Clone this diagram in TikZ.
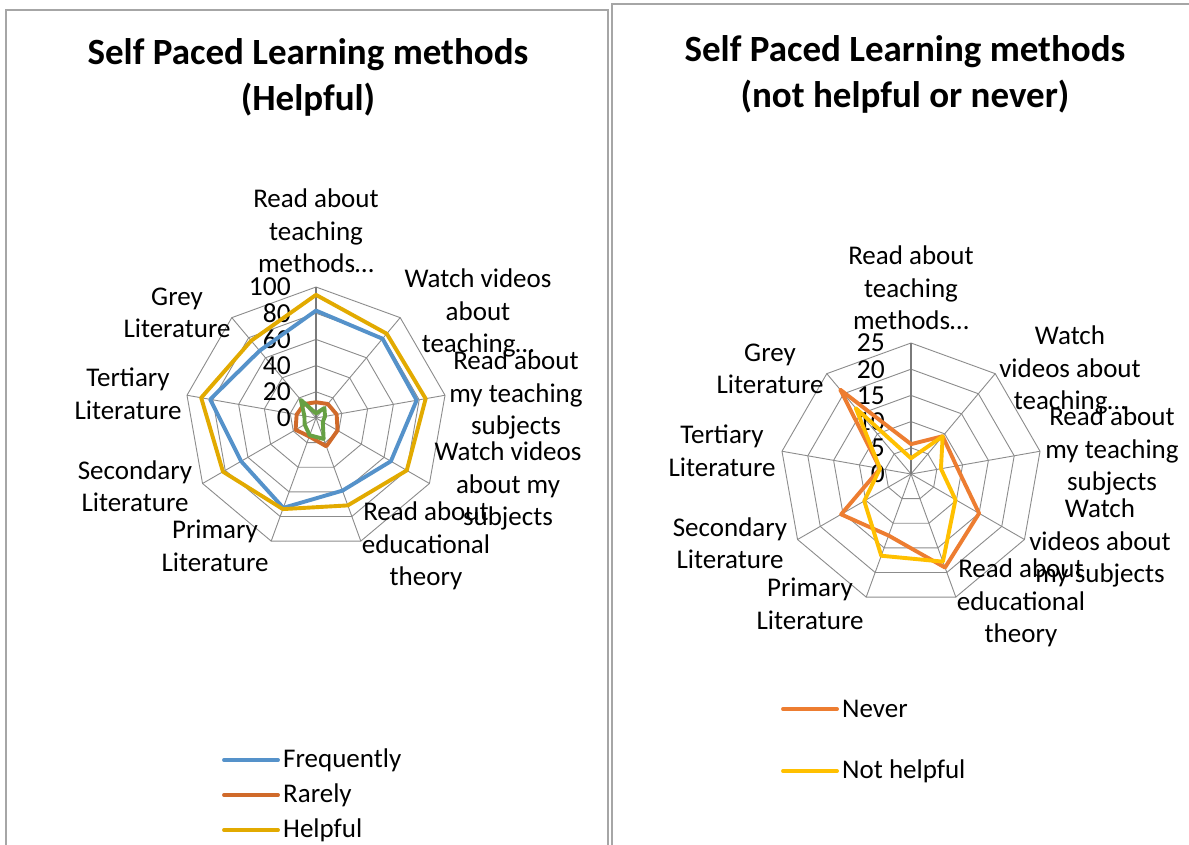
\documentclass[tikz,border=0pt]{standalone}
\usepackage{fontspec}
\setmainfont{Carlito}
\definecolor{gridgray}{HTML}{8C8C8C}
\definecolor{axisgray}{HTML}{7A7A7A}
\definecolor{framegray}{HTML}{A6A6A6}
\definecolor{cfreq}{HTML}{5592CA}
\definecolor{crare}{HTML}{D06A2A}
\definecolor{chelp}{HTML}{E2AA00}
\definecolor{cgreen}{HTML}{66A043}
\definecolor{cnever}{HTML}{ED7D31}
\definecolor{cnoth}{HTML}{FFC000}
\begin{document}
\begin{tikzpicture}[x=1pt,y=1pt,
  grid/.style={draw=gridgray, line width=0.9pt},
  axisline/.style={draw=axisgray, line width=1.2pt},
  series/.style={line width=3.9pt, line join=round},
  lbl/.style={font=\fontsize{27}{32.5}\selectfont, align=center, inner sep=0pt},
  tick/.style={font=\fontsize{27.5}{32}\selectfont, anchor=east, inner sep=0pt},
  ttl/.style={font=\bfseries\fontsize{37}{46}\selectfont, align=center, inner sep=0pt},
  frm/.style={draw=framegray, line width=1.6pt},
  leg/.style={font=\fontsize{27}{32}\selectfont, anchor=west, inner sep=0pt}]
\useasboundingbox (0,-845) rectangle (1189,0);
\fill[white] (0,-845) rectangle (1189,0);
% frames
\draw[frm] (6,-845) -- (6,-10) -- (608,-10) -- (608,-845);
\draw[frm] (612,-845) -- (612,-4) -- (1189,-4);
% ---------------- left chart ----------------
\node[ttl] (tl) at (308,-77) {Self Paced Learning methods\\(Helpful)};
\begin{scope}[shift={(316,-418)}]
  \foreach \k in {1,...,5}{
    \draw[grid] (90:\k*26.2) \foreach \i in {1,...,8}{ -- (90-40*\i:\k*26.2)} -- cycle;
  }
  \foreach \i in {1,...,8}{ \draw[grid] (0,0) -- (90-40*\i:131); }
  \coordinate (lc) at (0,0);
  \coordinate (ltop) at (0,131);
  \draw[axisline] (lc) -- (ltop);
  \foreach \v [count=\k from 0] in {0,20,40,60,80,100}{
    \node[tick] (lt\k) at (-25,\k*26.2) {\v};
  }
  \def\s{1.31}
  \draw[series,cfreq] (90:82*\s) -- (50:79*\s) -- (10:78*\s) -- (-30:66*\s) -- (-70:59*\s) -- (-110:73*\s) -- (-150:66*\s) -- (170:82*\s) -- (130:67*\s) -- cycle;
  \draw[series,crare] (90:12*\s) -- (50:14*\s) -- (10:16*\s) -- (-30:19*\s) -- (-70:23*\s) -- (-110:15*\s) -- (-150:18*\s) -- (170:15*\s) -- (130:14*\s) -- cycle;
  \draw[series,chelp] (90:94*\s) -- (50:84*\s) -- (10:85*\s) -- (-30:80*\s) -- (-70:71*\s) -- (-110:74*\s) -- (-150:82*\s) -- (170:89*\s) -- (130:77*\s) -- cycle;
  \draw[series,cgreen] (90:3.5*\s) -- (50:10*\s) -- (10:7*\s) -- (-30:6*\s) -- (-70:17*\s) -- (-110:14*\s) -- (-150:10*\s) -- (170:9*\s) -- (130:18*\s) -- cycle;
\end{scope}
\node[lbl] (l1) at (316,-231) {Read about\\teaching\\methods…};
\node[lbl] (l2) at (478,-313) {Watch videos\\about\\teaching…};
\node[lbl] (l3) at (516,-395) {Read about\\my teaching\\subjects};
\node[lbl] (l4) at (508,-486) {Watch videos\\about my\\subjects};
\node[lbl] (l5) at (426,-546) {Read about\\educational\\theory};
\node[lbl] (l6) at (215,-546) {Primary\\Literature};
\node[lbl] (l7) at (135,-486) {Secondary\\Literature};
\node[lbl] (l8) at (128,-394) {Tertiary\\Literature};
\node[lbl] (l9) at (177,-313) {Grey\\Literature};
% legend left
\coordinate (lfa1) at (224,-760); \coordinate (lfb1) at (278,-760);
\coordinate (lfa2) at (224,-795); \coordinate (lfb2) at (278,-795);
\coordinate (lfa3) at (224,-830); \coordinate (lfb3) at (278,-830);
\draw[series,cfreq,line cap=round] (lfa1) -- (lfb1);
\draw[series,crare,line cap=round] (lfa2) -- (lfb2);
\draw[series,chelp,line cap=round] (lfa3) -- (lfb3);
\node[leg] (lg1) at (283,-760) {Frequently};
\node[leg] (lg2) at (283,-795) {Rarely};
\node[leg] (lg3) at (283,-830) {Helpful};
% ---------------- right chart ----------------
\node[ttl] (tr) at (905,-74) {Self Paced Learning methods\\(not helpful or never)};
\begin{scope}[shift={(911,-474)}]
  \foreach \k in {1,...,5}{
    \draw[grid] (90:\k*26.2) \foreach \i in {1,...,8}{ -- (90-40*\i:\k*26.2)} -- cycle;
  }
  \foreach \i in {1,...,8}{ \draw[grid] (0,0) -- (90-40*\i:131); }
  \coordinate (rc) at (0,0);
  \coordinate (rtop) at (0,131);
  \draw[axisline] (rc) -- (rtop);
  \foreach \v [count=\k from 0] in {0,5,10,15,20,25}{
    \node[tick] (rt\k) at (-26,\k*26.2) {\v};
  }
  \def\s{5.24}
  \draw[series,cnever] (90:5.7*\s) -- (50:9.4*\s) -- (10:8.8*\s) -- (-30:15*\s) -- (-70:19*\s) -- (-110:12.5*\s) -- (-150:15.4*\s) -- (170:6*\s) -- (130:21*\s) -- cycle;
  \draw[series,cnoth] (90:3*\s) -- (50:9.4*\s) -- (10:5.8*\s) -- (-30:9.8*\s) -- (-70:17.8*\s) -- (-110:16.6*\s) -- (-150:10.3*\s) -- (170:6*\s) -- (130:16.4*\s) -- cycle;
\end{scope}
\node[lbl] (r1) at (911,-288) {Read about\\teaching\\methods…};
\node[lbl] (r2) at (1070,-370) {Watch\\videos about\\teaching…};
\node[lbl] (r3) at (1112,-451) {Read about\\my teaching\\subjects};
\node[lbl] (r4) at (1100,-543) {Watch\\videos about\\my subjects};
\node[lbl] (r5) at (1021,-603) {Read about\\educational\\theory};
\node[lbl] (r6) at (810,-604) {Primary\\Literature};
\node[lbl] (r7) at (730,-543) {Secondary\\Literature};
\node[lbl] (r8) at (722,-451) {Tertiary\\Literature};
\node[lbl] (r9) at (770,-369) {Grey\\Literature};
% legend right
\coordinate (rfa1) at (783,-709); \coordinate (rfb1) at (837,-709);
\coordinate (rfa2) at (783,-771); \coordinate (rfb2) at (837,-771);
\draw[series,cnever,line cap=round] (rfa1) -- (rfb1);
\draw[series,cnoth,line cap=round] (rfa2) -- (rfb2);
\node[leg] (rg1) at (842,-709) {Never};
\node[leg] (rg2) at (842,-771) {Not helpful};
\end{tikzpicture}
\end{document}
